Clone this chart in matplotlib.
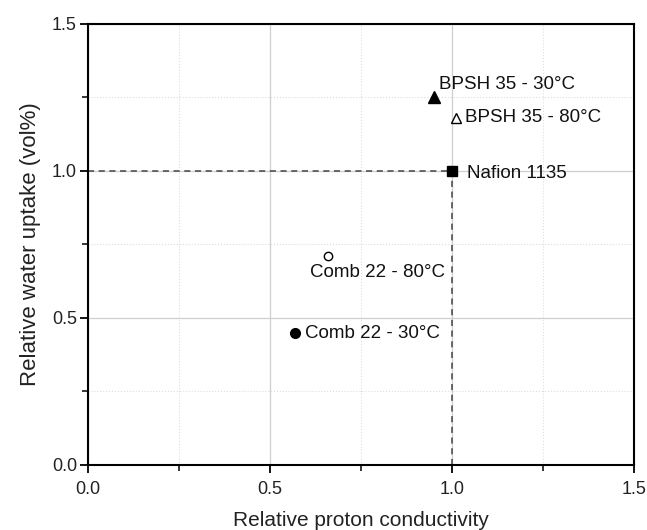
import matplotlib
matplotlib.use("Agg")
import matplotlib.pyplot as plt
from matplotlib.ticker import MultipleLocator

plt.rcParams['font.family'] = ['Liberation Sans', 'DejaVu Sans']

# data
names = ["BPSH 35 - 30°C", "BPSH 35 - 80°C", "Nafion 1135", "Comb 22 - 80°C", "Comb 22 - 30°C"]
conductivity = [0.95, 1.01, 1.0, 0.66, 0.57]
uptake = [1.25, 1.18, 1.0, 0.71, 0.45]
markers = ["^", "^", "s", "o", "o"]
filled = [True, False, True, False, True]
sizes = [8, 7, 7.5, 6, 7]

# label anchor (left edge, vertical centre) in data units
label_x = [0.965, 1.035, 1.04, 0.61, 0.596]
label_y = [1.295, 1.18, 0.99, 0.653, 0.447]

fig = plt.figure(figsize=(6.47, 5.30), dpi=100)
ax = fig.add_axes([0.136, 0.123, 0.844, 0.832])

# reference lines at Nafion
ax.plot([0, 1.0], [1.0, 1.0], ls=(0, (4, 3)), color="#444444", lw=1.1, zorder=2)
ax.plot([1.0, 1.0], [0, 1.0], ls=(0, (4, 3)), color="#444444", lw=1.1, zorder=2)

for x, y, m, f, s in zip(conductivity, uptake, markers, filled, sizes):
	ax.plot(x, y, marker=m, ms=s, color="black",
			markerfacecolor="black" if f else "white",
			markeredgewidth=1.0, ls="none", zorder=3)

for t, x, y in zip(names, label_x, label_y):
	ax.text(x, y, t, ha="left", va="center", fontsize=13.5, color="#111111")

ax.set_xlim(0, 1.5)
ax.set_ylim(0, 1.5)
ax.xaxis.set_major_locator(MultipleLocator(0.5))
ax.yaxis.set_major_locator(MultipleLocator(0.5))
ax.xaxis.set_minor_locator(MultipleLocator(0.25))
ax.yaxis.set_minor_locator(MultipleLocator(0.25))
ax.xaxis.set_major_formatter(lambda v, p: f"{v:.1f}")
ax.yaxis.set_major_formatter(lambda v, p: f"{v:.1f}")

ax.grid(which="major", color="#cfcfcf", lw=0.9, ls="-", zorder=0)
ax.grid(which="minor", color="#dddddd", lw=0.8, ls=":", zorder=0)
ax.set_axisbelow(True)

ax.tick_params(which="major", direction="out", length=6, width=1.3, labelsize=13, color="black", labelcolor="#222222")
ax.tick_params(axis="x", which="major", pad=6)
ax.tick_params(axis="y", which="major", pad=2)
ax.tick_params(which="minor", direction="out", length=4, width=1.1)
for sp in ax.spines.values():
	sp.set_linewidth(1.5)

ax.set_xlabel("Relative proton conductivity", fontsize=15, labelpad=9, color="#222222")
ax.set_ylabel("Relative water uptake (vol%)", fontsize=16, labelpad=8, color="#222222")

fig.savefig("out.png", dpi=100)
